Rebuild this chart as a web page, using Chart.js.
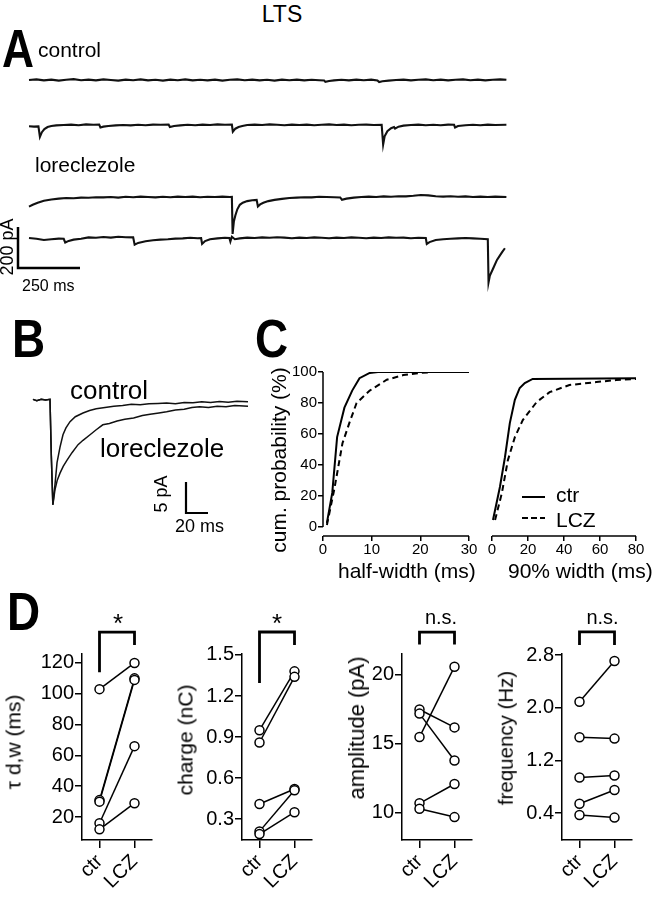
<!DOCTYPE html>
<html>
<head>
<meta charset="utf-8">
<script src="https://cdn.jsdelivr.net/npm/chart.js@4.4.0/dist/chart.umd.min.js"></script>
<style>
body { margin: 0; background: #fff; }
#fig { position: relative; width: 656px; height: 900px; overflow: hidden; font-family: "Liberation Sans", Arial, sans-serif; color: #000; }
#fig canvas { position: absolute; }
.t { position: absolute; line-height: 1; white-space: nowrap; }
</style>
</head>
<body>
<div id="fig"></div>
<script>
// ---------- data ----------
// panel A sweeps: [time ms, current pA], current relative to the sweep baseline
const ctrlSweep1 = [[0,0],[30,3],[60,-2],[90,2],[120,-3],[150,1],[180,4],[210,-1],[240,2],[270,-2],[300,3],[330,0],[360,-3],[390,2],[420,-1],[450,3],[480,-2],[510,1],[540,-3],[570,2],[600,-1],[630,3],[660,-2],[690,1],[720,-2],[750,2],[780,-3],[810,1],[840,3],[870,-1],[900,2],[930,-2],[960,1],[990,-3],[1020,2],[1050,-1],[1080,2],[1110,-2],[1140,1],[1170,-1],[1190,-2],[1195,-9],[1210,-5],[1230,-2],[1260,1],[1290,-2],[1320,2],[1350,-1],[1380,2],[1405,-2],[1412,-10],[1425,-6],[1450,-3],[1480,0],[1510,2],[1540,-2],[1570,1],[1600,3],[1630,-1],[1660,2],[1690,-2],[1720,1],[1750,3],[1780,-1],[1810,2],[1840,-2],[1870,1],[1900,3],[1925,1]];
const ctrlSweep2 = [[0,-6],[20,-8],[38,-7],[44,-58],[52,-35],[62,-20],[75,-10],[90,-5],[110,-2],[140,0],[170,2],[200,-1],[230,3],[260,1],[283,2],[288,-12],[300,-8],[320,-5],[350,-2],[380,0],[410,-2],[440,1],[470,-1],[500,2],[530,1],[563,2],[568,-10],[585,-5],[610,-2],[640,1],[670,-1],[700,2],[730,0],[760,3],[790,1],[818,2],[822,-33],[832,-18],[845,-10],[860,-5],[880,0],[910,2],[940,0],[970,3],[1000,1],[1030,-1],[1060,2],[1090,0],[1120,2],[1150,-1],[1180,1],[1210,3],[1240,0],[1270,2],[1300,-1],[1330,1],[1360,2],[1390,0],[1422,1],[1428,-95],[1434,-55],[1445,-30],[1460,-16],[1472,-10],[1476,-18],[1490,-8],[1510,-3],[1540,0],[1570,2],[1600,-1],[1630,1],[1660,-1],[1690,2],[1714,1],[1718,-12],[1730,-5],[1760,-1],[1790,1],[1820,-1],[1850,2],[1880,0],[1925,1]];
const lczSweep1 = [[0,-47],[15,-38],[35,-28],[60,-18],[90,-12],[120,-8],[150,-5],[180,-6],[210,-3],[240,-4],[270,-1],[300,-2],[330,0],[360,-3],[390,1],[420,-1],[450,2],[480,0],[510,-2],[540,1],[570,-1],[600,2],[630,0],[660,2],[690,-1],[720,1],[750,0],[780,2],[810,0],[818,1],[821,-180],[826,-120],[832,-90],[840,-60],[850,-38],[862,-28],[880,-20],[900,-16],[918,-14],[923,-46],[932,-36],[945,-28],[965,-20],[990,-14],[1020,-9],[1050,-5],[1080,-3],[1110,-1],[1140,-2],[1170,1],[1200,0],[1230,-1],[1255,-2],[1262,-14],[1280,-8],[1310,-3],[1340,0],[1370,2],[1400,0],[1430,3],[1460,1],[1490,4],[1520,3],[1550,6],[1580,10],[1610,8],[1640,4],[1670,2],[1700,4],[1730,1],[1760,3],[1790,0],[1820,2],[1850,0],[1880,2],[1925,0]];
const lczSweep2 = [[0,0],[30,-4],[60,-10],[90,-6],[120,-3],[140,-4],[146,-22],[160,-14],[180,-8],[210,-4],[240,3],[270,1],[300,5],[330,2],[360,6],[390,4],[420,3],[426,-33],[440,-24],[470,-16],[500,-11],[530,-8],[560,-6],[590,-3],[620,-2],[650,1],[680,-1],[694,0],[698,-29],[710,-15],[730,-6],[760,-2],[790,1],[808,0],[812,-17],[818,6],[830,-6],[850,-2],[880,2],[910,0],[940,3],[970,1],[1000,4],[1030,2],[1060,-1],[1090,2],[1120,0],[1150,3],[1180,1],[1210,-1],[1240,2],[1270,0],[1300,3],[1330,1],[1360,-1],[1390,2],[1420,0],[1450,3],[1480,1],[1510,2],[1540,-1],[1570,1],[1600,0],[1604,-29],[1615,-20],[1640,-10],[1670,-6],[1700,-4],[1730,-2],[1760,0],[1790,-2],[1820,-4],[1850,-6],[1853,-216],[1858,-185],[1871,-150],[1887,-107],[1907,-70],[1919,-50]];
const scaleBarA = [250, 200]; // ms, pA

// panel B averaged events: [time ms, current pA]
const avgCtrl = [[-15.5,0.1],[-12,-0.1],[-8,0.1],[-4,0],[0,0.1],[1.2,-9],[2.6,-16.9],[4.5,-13.7],[6.4,-10.1],[9.1,-7.6],[11.8,-5.6],[14.5,-4.5],[18.2,-3.5],[23,-2.7],[30,-2.1],[36,-1.7],[42,-1.4],[50,-1.2],[58,-1.0],[66,-0.9],[74,-0.7],[82,-0.75],[90,-0.6],[98,-0.55],[106,-0.5],[114,-0.6],[122,-0.4],[130,-0.45],[138,-0.3],[146,-0.4],[154,-0.25],[162,-0.35],[170,-0.2],[180,-0.3]];
const avgLcz = [[-15.5,0.1],[-12,-0.1],[-8,0.1],[-4,0],[0,0.1],[1.2,-9],[2.6,-16.9],[4.5,-14.5],[6.5,-13],[9.1,-11.8],[12,-10.7],[15.5,-9.7],[20,-8.5],[25.5,-7.2],[30,-6.5],[36.4,-5.6],[42,-4.8],[48,-4.0],[54,-3.8],[61,-3.4],[68,-3.1],[76,-2.9],[84,-2.5],[91,-2.3],[99,-2.1],[106,-1.9],[114,-1.6],[122,-1.5],[129,-1.2],[136,-1.1],[144,-1.2],[152,-1.0],[160,-1.1],[168,-0.9],[180,-1.0]];
const scaleBarB = [20, 5]; // ms, pA

// panel C cumulative probability: [width ms, %]
const halfWidthCtr = [[0.8,2.6],[1.9,22],[2.9,58],[4.4,77],[6.0,88],[7.5,96],[9.6,99.4],[11.3,100],[30,100]];
const halfWidthLcz = [[0.8,1.3],[2.3,24],[4.0,54],[5.4,67],[6.9,80],[9.6,88],[13.1,95],[16.5,98],[20,99.4],[22.7,100],[30,100]];
const width90Ctr = [[0.55,4.5],[4.4,25.8],[7.2,45],[9.9,67],[12.7,82],[15.4,89.7],[18.2,92.9],[22.6,95.5],[80,96]];
const width90Lcz = [[1.7,4.5],[5.5,22],[8.8,43],[12.7,58],[17.1,69],[24.8,80.6],[32,87],[43,91.6],[58,93.5],[69,94.8],[80,95.5]];
const probTicks = [0, 20, 40, 60, 80, 100];

// panel D paired cells
const pairLabels = ['ctr', 'LCZ'];
const tauCtr = [103, 31, 30, 16, 12];
const tauLcz = [120, 110, 109, 66, 29];
const chargeCtr = [0.95, 0.86, 0.41, 0.21, 0.19];
const chargeLcz = [1.38, 1.34, 0.52, 0.51, 0.35];
const ampCtr = [15.5, 17.5, 17.2, 10.7, 10.3];
const ampLcz = [20.6, 16.2, 13.8, 12.1, 9.7];
const freqCtr = [2.09, 1.55, 0.94, 0.54, 0.37];
const freqLcz = [2.71, 1.53, 0.97, 0.75, 0.33];
const tauTicks = [20, 40, 60, 80, 100, 120];
const chargeTicks = [0.3, 0.6, 0.9, 1.2, 1.5];
const ampTicks = [10, 15, 20];
const freqTicks = [0.4, 1.2, 2.0, 2.8];

// ---------- helpers ----------
Chart.defaults.font.family = '"Liberation Sans", Arial, sans-serif';
Chart.defaults.color = '#000';
Chart.defaults.animation = false;
Chart.defaults.responsive = false;
Chart.defaults.plugins.legend.display = false;
Chart.defaults.plugins.tooltip.enabled = false;
Chart.defaults.elements.point.radius = 0;
Chart.defaults.elements.line.tension = 0;

const fig = document.getElementById('fig');

function label(s, x, baseline, size, opt) {
    opt = opt || {};
    let d = document.createElement('div');
    d.className = 't';
    d.textContent = s;
    d.style.left = x + 'px';
    d.style.top = (baseline - 0.8465 * size) + 'px';
    d.style.fontSize = size + 'px';
    if (opt.bold) d.style.fontWeight = 'bold';
    if (opt.sx) { d.style.transform = 'scaleX(' + opt.sx + ')'; d.style.transformOrigin = 'left'; }
    if (opt.center) d.style.transform = 'translateX(-50%)';
    fig.appendChild(d);
}

function vlabel(s, cx, cy, size) {
    let d = document.createElement('div');
    d.className = 't';
    d.textContent = s;
    d.style.left = cx + 'px';
    d.style.top = cy + 'px';
    d.style.fontSize = size + 'px';
    d.style.transform = 'translate(-50%,-50%) rotate(-90deg)';
    fig.appendChild(d);
}

function canvasAt(left, top, w, h) {
    let c = document.createElement('canvas');
    c.width = w; c.height = h;
    c.style.left = left + 'px'; c.style.top = top + 'px';
    c.style.width = w + 'px'; c.style.height = h + 'px';
    fig.appendChild(c);
    return c.getContext('2d');
}

const toXY = (arr) => arr.map((p) => ({ x: p[0], y: p[1] }));

// ---------- panel A: raw sweeps ----------
const msPxA = 250 / 62, pAPxA = 200 / 41;
const aLeft = 0, aTop = 60, aW = 520, aH = 240, aX0 = 29;
const sweepBaseY = [80, 125, 197, 238];
const sweeps = [ctrlSweep1, ctrlSweep2, lczSweep1, lczSweep2];
let dsA = sweeps.map((s, i) => ({
    data: s.map((p) => ({ x: p[0], y: p[1] - (sweepBaseY[i] - aTop) * pAPxA })),
    borderColor: '#111',
    borderWidth: 2.1
}));
const barAx = (18 - aX0) * msPxA, barAy = -(268 - aTop) * pAPxA;
dsA.push({
    data: [{ x: barAx, y: barAy + scaleBarA[1] }, { x: barAx, y: barAy }, { x: barAx + scaleBarA[0], y: barAy }],
    borderColor: '#000', borderWidth: 2.5, borderJoinStyle: 'miter'
});
new Chart(canvasAt(aLeft, aTop, aW, aH), {
    type: 'line',
    data: { datasets: dsA },
    options: {
        devicePixelRatio: 1,
        layout: { padding: 0 },
        scales: {
            x: { type: 'linear', display: false, min: (aLeft - aX0) * msPxA, max: (aLeft + aW - aX0) * msPxA },
            y: { display: false, min: -aH * pAPxA, max: 0 }
        }
    }
});

// ---------- panel B: averaged events ----------
const msPxB = 20 / 22, pAPxB = 5 / 31;
const bLeft = 0, bTop = 370, bW = 260, bH = 160, bX0 = 50, bY0 = 400;
const barBx = (186 - bX0) * msPxB, barBy = -(513 - bY0) * pAPxB;
new Chart(canvasAt(bLeft, bTop, bW, bH), {
    type: 'line',
    data: {
        datasets: [
            { data: toXY(avgCtrl), borderColor: '#111', borderWidth: 1.5 },
            { data: toXY(avgLcz), borderColor: '#111', borderWidth: 1.5 },
            { data: [{ x: barBx, y: barBy + scaleBarB[1] }, { x: barBx, y: barBy }, { x: barBx + scaleBarB[0], y: barBy }],
              borderColor: '#000', borderWidth: 2.2, borderJoinStyle: 'miter' }
        ]
    },
    options: {
        devicePixelRatio: 1,
        layout: { padding: 0 },
        scales: {
            x: { type: 'linear', display: false, min: (bLeft - bX0) * msPxB, max: (bLeft + bW - bX0) * msPxB },
            y: { display: false, min: -(bTop + bH - bY0) * pAPxB, max: (bY0 - bTop) * pAPxB }
        }
    }
});

// ---------- panel C: cumulative plots ----------
function cumChart(left, width, padLeft, padRight, xMax, xStep, ctr, lcz, withY, legend) {
    let axisLines = {
        id: 'axisLines',
        afterDraw(ch) {
            let c = ch.ctx, xs = ch.scales.x, ys = ch.scales.y;
            c.save();
            c.strokeStyle = '#000';
            c.lineWidth = 1.5;
            c.beginPath();
            if (withY) {
                c.moveTo(xs.getPixelForValue(0), ys.getPixelForValue(0));
                c.lineTo(xs.getPixelForValue(0), ys.getPixelForValue(100));
            }
            c.moveTo(xs.getPixelForValue(0), ch.chartArea.bottom);
            c.lineTo(xs.getPixelForValue(xMax), ch.chartArea.bottom);
            c.stroke();
            if (legend) {
                c.lineWidth = 2;
                c.beginPath();
                c.moveTo(40, 135); c.lineTo(63, 135);
                c.stroke();
                c.setLineDash([6, 3]);
                c.beginPath();
                c.moveTo(40, 156); c.lineTo(63, 156);
                c.stroke();
            }
            c.restore();
        }
    };
    new Chart(canvasAt(left, 362, width, 210), {
        type: 'line',
        data: {
            datasets: [
                { data: toXY(ctr), borderColor: '#000', borderWidth: 2 },
                { data: toXY(lcz), borderColor: '#000', borderWidth: 2, borderDash: [6, 4] }
            ]
        },
        options: {
            devicePixelRatio: 1,
            layout: { padding: { top: 10, right: padRight, left: padLeft, bottom: 0 } },
            scales: {
                x: {
                    type: 'linear', min: 0, max: xMax,
                    ticks: { stepSize: xStep, font: { size: 15 }, padding: 0, maxRotation: 0 },
                    grid: { drawOnChartArea: false, tickLength: 5, color: '#000', lineWidth: 1.5 },
                    border: { display: false },
                    afterFit(s) { s.height = 36; }
                },
                y: {
                    display: withY, min: -5.8, max: 100,
                    afterBuildTicks(s) { s.ticks = probTicks.map((v) => ({ value: v })); },
                    ticks: { font: { size: 15 }, padding: 1 },
                    grid: { drawOnChartArea: false, tickLength: 5, color: '#000', lineWidth: 1.5 },
                    border: { display: false },
                    afterFit(s) { s.width = withY ? 43 : 0; }
                }
            }
        },
        plugins: [axisLines]
    });
}
cumChart(280, 200, 0, 11, 30, 10, halfWidthCtr, halfWidthLcz, true, false);
cumChart(482, 174, 10, 20, 80, 20, width90Ctr, width90Lcz, false, true);

// ---------- panel D: paired comparisons ----------
function pairChart(left, ctrVals, lczVals, yMin, yMax, yTicks, decimals, bracket) {
    let ds = [];
    let pts = [];
    ctrVals.forEach((v, i) => {
        pts.push({ x: pairLabels[0], y: v });
        pts.push({ x: pairLabels[1], y: lczVals[i] });
        ds.push({ data: [{ x: pairLabels[0], y: v }, { x: pairLabels[1], y: lczVals[i] }],
                  borderColor: '#000', borderWidth: 1.5, order: 1 });
    });
    ds.push({ data: [{ x: pairLabels[0], y: bracket[0] }, { x: pairLabels[0], y: bracket[1] },
                     { x: pairLabels[1], y: bracket[1] }, { x: pairLabels[1], y: bracket[2] }],
              borderColor: '#000', borderWidth: 2.8, borderJoinStyle: 'miter', clip: false, order: 1 });
    ds.push({ data: pts, showLine: false, pointRadius: 4.5, pointBackgroundColor: '#fff',
              pointBorderColor: '#000', pointBorderWidth: 1.5, order: 0 });
    new Chart(canvasAt(left, 620, 145, 280), {
        type: 'line',
        data: { labels: pairLabels, datasets: ds },
        options: {
            devicePixelRatio: 1,
            layout: { padding: { top: 34, right: 13, left: 0, bottom: 0 } },
            scales: {
                x: {
                    type: 'category', offset: true,
                    grid: { offset: false, drawOnChartArea: false, tickLength: 8, color: '#000', lineWidth: 1.5 },
                    border: { color: '#000', width: 1.5 },
                    ticks: { font: { size: 20 }, minRotation: 45, maxRotation: 45, padding: 2, autoSkip: false },
                    afterFit(s) { s.height = 60; }
                },
                y: {
                    min: yMin, max: yMax,
                    afterBuildTicks(s) { s.ticks = yTicks.map((v) => ({ value: v })); },
                    ticks: { font: { size: 20 }, padding: 1, callback: (v) => v.toFixed(decimals) },
                    grid: { drawOnChartArea: false, tickLength: 7, color: '#000', lineWidth: 1.5 },
                    border: { color: '#000', width: 1.5 },
                    afterFit(s) { s.width = 62; }
                }
            }
        }
    });
}
pairChart(20, tauCtr, tauLcz, 5.1, 125.8, tauTicks, 0, [114, 140, 131.7]);
pairChart(180, chargeCtr, chargeLcz, 0.147, 1.507, chargeTicks, 1, [1.295, 1.668, 1.573]);
pairChart(340, ampCtr, ampLcz, 8.04, 21.52, ampTicks, 0, [22.2, 23.1, 22.2]);
pairChart(500, freqCtr, freqLcz, -0.01, 2.815, freqTicks, 1, [2.95, 3.15, 2.95]);

// ---------- text ----------
label('LTS', 282, 22, 23, { center: true });
label('A', 2, 67, 54, { bold: true, sx: 0.82 });
label('control', 38, 56.5, 21);
label('loreclezole', 35, 171.7, 21);
vlabel('200 pA', 7, 247, 18);
label('250 ms', 22, 291.7, 16);

label('B', 12, 357, 54, { bold: true, sx: 0.85 });
label('control', 70, 399, 26);
label('loreclezole', 100, 456.7, 26);
vlabel('5 pA', 161, 494, 18);
label('20 ms', 175, 532, 18);

label('C', 255, 357, 54, { bold: true, sx: 0.85 });
vlabel('cum. probability (%)', 278, 460, 21);
label('half-width (ms)', 338, 578, 21);
label('90% width (ms)', 508, 578, 21);
label('ctr', 556, 501.7, 21);
label('LCZ', 556, 526.7, 21);

label('D', 7, 630, 54, { bold: true, sx: 0.85 });
label('*', 118, 631.6, 26, { center: true });
label('*', 277, 631.6, 26, { center: true });
label('n.s.', 441, 624, 20, { center: true });
label('n.s.', 602.5, 624, 20, { center: true });
vlabel('\u03c4 d,w (ms)', 13, 742, 21);
vlabel('charge (nC)', 185, 740, 21);
vlabel('amplitude (pA)', 357, 728, 22);
vlabel('frequency (Hz)', 506, 738, 20.5);
</script>
</body>
</html>
